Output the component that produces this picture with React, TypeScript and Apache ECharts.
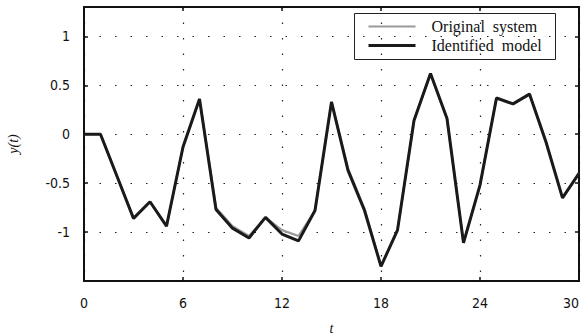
import React, { useEffect, useRef } from "react";
import * as echarts from "echarts";

const tValues = [0,1,2,3,4,5,6,7,8,9,10,11,12,13,14,15,16,17,18,19,20,21,22,23,24,25,26,27,28,29,30];
const originalSystem = [0,0,-0.43,-0.86,-0.69,-0.94,-0.13,0.36,-0.75,-0.94,-1.04,-0.85,-0.98,-1.04,-0.78,0.33,-0.35,-0.76,-1.35,-0.98,0.14,0.62,0.16,-1.11,-0.52,0.37,0.31,0.41,-0.08,-0.65,-0.40];
const identifiedModel = [0,0,-0.43,-0.86,-0.69,-0.94,-0.13,0.36,-0.77,-0.96,-1.06,-0.85,-1.02,-1.09,-0.78,0.33,-0.37,-0.78,-1.35,-0.98,0.14,0.62,0.16,-1.11,-0.52,0.37,0.31,0.41,-0.08,-0.65,-0.40];
const seriesNames = ["Original  system", "Identified  model"];
const seriesColors = ["#9a9a9a", "#1a1a1a"];
const seriesWidths = [2.2, 3];

const labelFont = "'DejaVu Sans Condensed', 'Liberation Sans', sans-serif";
const serifFont = "'Liberation Serif', 'DejaVu Serif', serif";

export default function App() {
  const ref = useRef<HTMLDivElement>(null);
  useEffect(() => {
    const chart = echarts.init(ref.current!, null, { renderer: "svg" });
    const gridLine = { show: true, lineStyle: { color: "#222", width: 1.2, type: [1.5, 14] as any } };
    const axisLine = { show: true, onZero: false, lineStyle: { color: "#111", width: 2 } };
    const axisTick = { show: true, inside: true, length: 4, lineStyle: { color: "#111", width: 1.5 } };
    chart.setOption({
      animation: false,
      backgroundColor: "#fff",
      grid: { left: 84, top: 7, right: 3, bottom: 54, containLabel: false, outerBoundsMode: "none" },
      xAxis: [
        {
          type: "value", min: 0, max: 30, interval: 6,
          axisLine, axisTick,
          axisLabel: { fontFamily: labelFont, fontSize: 14, color: "#111", margin: 15, alignMaxLabel: "right" },
          splitLine: gridLine,
          name: "t", nameLocation: "middle", nameGap: 40,
          nameTextStyle: { fontFamily: serifFont, fontStyle: "italic", fontSize: 14, color: "#111" },
        },
        {
          type: "value", min: 0, max: 30, interval: 6, position: "top",
          axisLine, axisTick,
          axisLabel: { show: false }, splitLine: { show: false },
        },
      ],
      yAxis: [
        {
          type: "value", min: -1.5, max: 1.3, interval: 0.5,
          axisLine, axisTick,
          axisLabel: {
            fontFamily: labelFont, fontSize: 14, color: "#111", margin: 14,
            showMinLabel: false, showMaxLabel: false,
            formatter: (v: number) => (Math.abs(v - Math.round(v)) < 1e-9 ? String(Math.round(v)) : String(v)),
          },
          splitLine: gridLine,
          name: "y(t)", nameLocation: "middle", nameGap: 64, nameRotate: 90,
          nameTextStyle: { fontFamily: serifFont, fontStyle: "italic", fontSize: 14, color: "#111" },
        },
        {
          type: "value", min: -1.5, max: 1.3, interval: 0.5, position: "right",
          axisLine, axisTick,
          axisLabel: { show: false }, splitLine: { show: false },
        },
      ],
      series: [
        {
          name: seriesNames[0], type: "line", xAxisIndex: 0, yAxisIndex: 0,
          data: tValues.map((t, i) => [t, originalSystem[i]]),
          showSymbol: false, symbol: "none",
          lineStyle: { color: seriesColors[0], width: seriesWidths[0] }, z: 2,
        },
        {
          name: seriesNames[1], type: "line", xAxisIndex: 0, yAxisIndex: 0,
          data: tValues.map((t, i) => [t, identifiedModel[i]]),
          showSymbol: false, symbol: "none",
          lineStyle: { color: seriesColors[1], width: seriesWidths[1] }, z: 3,
        },
      ],
      graphic: [
        {
          type: "group", left: 354, top: 13, z: 100,
          children: [
            { type: "rect", shape: { x: 0, y: 0, width: 201, height: 46 }, style: { fill: "#fff", stroke: "#222", lineWidth: 1 } },
            ...seriesNames.flatMap((name, i) => [
              { type: "line", shape: { x1: 14, y1: 13 + i * 19, x2: 61, y2: 13 + i * 19 }, style: { stroke: seriesColors[i], lineWidth: seriesWidths[i] } },
              { type: "text", x: 77, y: 13 + i * 19, style: { text: name, fill: "#111", font: `16px ${serifFont}`, verticalAlign: "middle", align: "left" } },
            ]),
          ],
        },
      ],
    });
    return () => chart.dispose();
  }, []);
  return <div ref={ref} style={{ position: "absolute", left: 0, top: 0, width: 582, height: 335 }} />;
}
